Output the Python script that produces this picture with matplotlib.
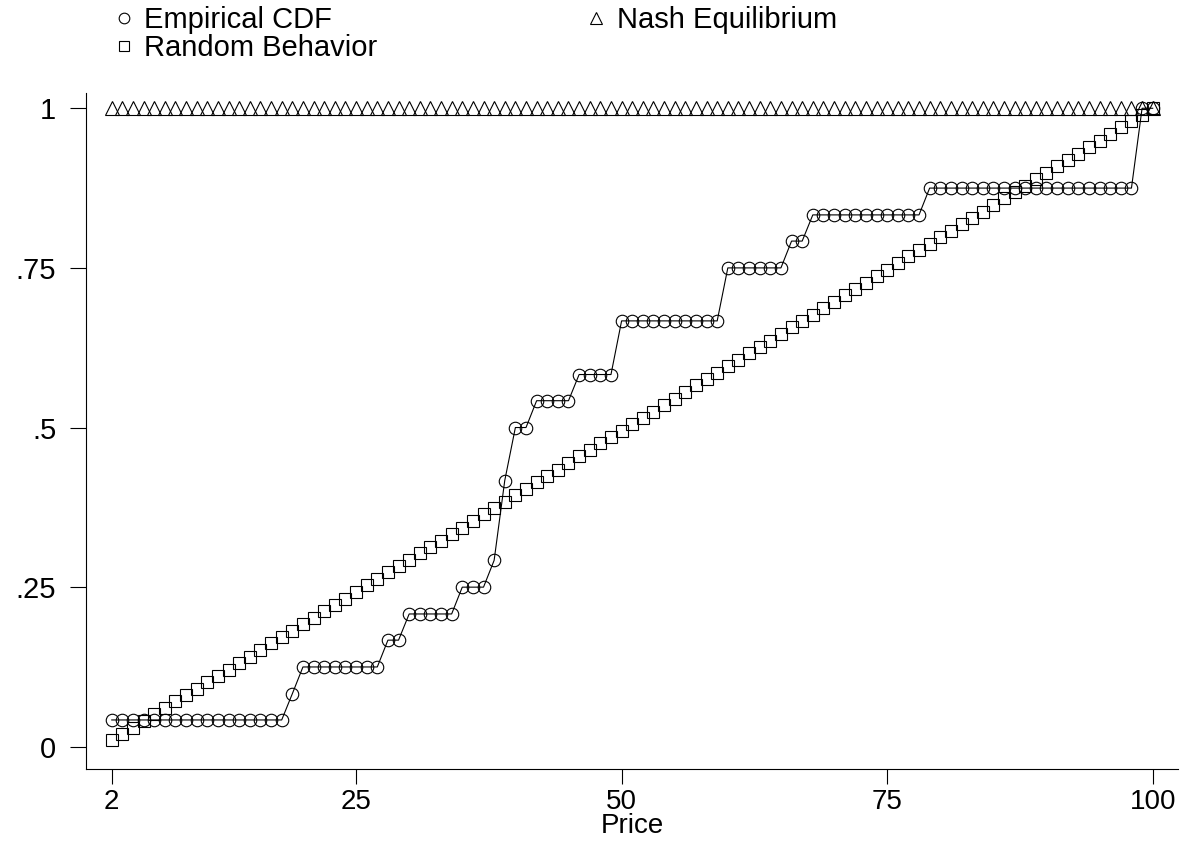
import numpy as np
import matplotlib.pyplot as plt
from matplotlib.lines import Line2D

plt.rcParams['font.family'] = ['Liberation Sans', 'DejaVu Sans']

# prices on the x axis
prices = list(range(2, 101))

# empirical cdf of submitted prices
empirical_cdf = [
    0.042, 0.042, 0.042, 0.042, 0.042, 0.042, 0.042, 0.042, 0.042, 0.042,  # 2-11
    0.042, 0.042, 0.042, 0.042, 0.042, 0.042, 0.042, 0.083, 0.125, 0.125,  # 12-21
    0.125, 0.125, 0.125, 0.125, 0.125, 0.125, 0.167, 0.167, 0.208, 0.208,  # 22-31
    0.208, 0.208, 0.208, 0.250, 0.250, 0.250, 0.292, 0.417, 0.500, 0.500,  # 32-41
    0.542, 0.542, 0.542, 0.542, 0.583, 0.583, 0.583, 0.583, 0.667, 0.667,  # 42-51
    0.667, 0.667, 0.667, 0.667, 0.667, 0.667, 0.667, 0.667, 0.750, 0.750,  # 52-61
    0.750, 0.750, 0.750, 0.750, 0.792, 0.792, 0.833, 0.833, 0.833, 0.833,  # 62-71
    0.833, 0.833, 0.833, 0.833, 0.833, 0.833, 0.833, 0.875, 0.875, 0.875,  # 72-81
    0.875, 0.875, 0.875, 0.875, 0.875, 0.875, 0.875, 0.875, 0.875, 0.875,  # 82-91
    0.875, 0.875, 0.875, 0.875, 0.875, 0.875, 0.875, 1.000, 1.000,  # 92-100
]

# uniform random pricing
random_behavior = [
    0.010, 0.020, 0.030, 0.040, 0.051, 0.061, 0.071, 0.081, 0.091, 0.101,
    0.111, 0.121, 0.131, 0.141, 0.152, 0.162, 0.172, 0.182, 0.192, 0.202,
    0.212, 0.222, 0.232, 0.242, 0.253, 0.263, 0.273, 0.283, 0.293, 0.303,
    0.313, 0.323, 0.333, 0.343, 0.354, 0.364, 0.374, 0.384, 0.394, 0.404,
    0.414, 0.424, 0.434, 0.444, 0.455, 0.465, 0.475, 0.485, 0.495, 0.505,
    0.515, 0.525, 0.535, 0.545, 0.556, 0.566, 0.576, 0.586, 0.596, 0.606,
    0.616, 0.626, 0.636, 0.646, 0.657, 0.667, 0.677, 0.687, 0.697, 0.707,
    0.717, 0.727, 0.737, 0.747, 0.758, 0.768, 0.778, 0.788, 0.798, 0.808,
    0.818, 0.828, 0.838, 0.848, 0.859, 0.869, 0.879, 0.889, 0.899, 0.909,
    0.919, 0.929, 0.939, 0.949, 0.960, 0.970, 0.980, 0.990, 1.000,
]

# nash equilibrium: everyone prices at the minimum
nash_equilibrium = [
    1.0, 1.0, 1.0, 1.0, 1.0, 1.0, 1.0, 1.0, 1.0, 1.0,
    1.0, 1.0, 1.0, 1.0, 1.0, 1.0, 1.0, 1.0, 1.0, 1.0,
    1.0, 1.0, 1.0, 1.0, 1.0, 1.0, 1.0, 1.0, 1.0, 1.0,
    1.0, 1.0, 1.0, 1.0, 1.0, 1.0, 1.0, 1.0, 1.0, 1.0,
    1.0, 1.0, 1.0, 1.0, 1.0, 1.0, 1.0, 1.0, 1.0, 1.0,
    1.0, 1.0, 1.0, 1.0, 1.0, 1.0, 1.0, 1.0, 1.0, 1.0,
    1.0, 1.0, 1.0, 1.0, 1.0, 1.0, 1.0, 1.0, 1.0, 1.0,
    1.0, 1.0, 1.0, 1.0, 1.0, 1.0, 1.0, 1.0, 1.0, 1.0,
    1.0, 1.0, 1.0, 1.0, 1.0, 1.0, 1.0, 1.0, 1.0, 1.0,
    1.0, 1.0, 1.0, 1.0, 1.0, 1.0, 1.0, 1.0, 1.0,
]

x_ticks = [2, 25, 50, 75, 100]
y_ticks = [0, 0.25, 0.5, 0.75, 1]
y_ticklabels = ['0', '.25', '.5', '.75', '1']

fs = 21
mk = dict(mfc='none', mec='black', mew=0.8)

fig = plt.figure(figsize=(11.9, 8.5), dpi=100)
ax = fig.add_axes([0.0723, 0.095, 0.9176, 0.7952])

ax.plot(prices, empirical_cdf, color='black', lw=0.8, marker='o', ms=9, **mk)
ax.plot(prices, nash_equilibrium, ls='none', marker='^', ms=10, **mk)
ax.plot(prices, random_behavior, ls='none', marker='s', ms=9, **mk)

ax.set_xlim(-0.42, 102.38)
ax.set_ylim(-0.0352, 1.0234)
ax.set_xticks(x_ticks)
ax.set_yticks(y_ticks)
ax.set_yticklabels(y_ticklabels)
for s in ['top', 'right']:
    ax.spines[s].set_visible(False)
for s in ['left', 'bottom']:
    ax.spines[s].set_linewidth(0.8)
ax.tick_params(axis='y', length=11.5, width=0.8, pad=10, labelsize=fs)
ax.tick_params(axis='x', length=11, width=0.8, pad=3, labelsize=20)
ax.set_xlabel('Price', fontsize=20, labelpad=-1)

handles = [
    Line2D([], [], ls='none', marker='o', ms=9, **mk),
    Line2D([], [], ls='none', marker='s', ms=9, **mk),
    Line2D([], [], ls='none', marker='^', ms=10, **mk),
]
labels = ['Empirical CDF', 'Random Behavior', 'Nash Equilibrium']
fig.legend(handles, labels, ncol=2, loc='upper left', bbox_to_anchor=(0.082, 1.013),
           frameon=False, fontsize=fs, markerscale=0.85, handlelength=0.6,
           handletextpad=0.4, columnspacing=7.2, labelspacing=0.0, borderpad=0.1)

fig.savefig('out.png', dpi=100)
